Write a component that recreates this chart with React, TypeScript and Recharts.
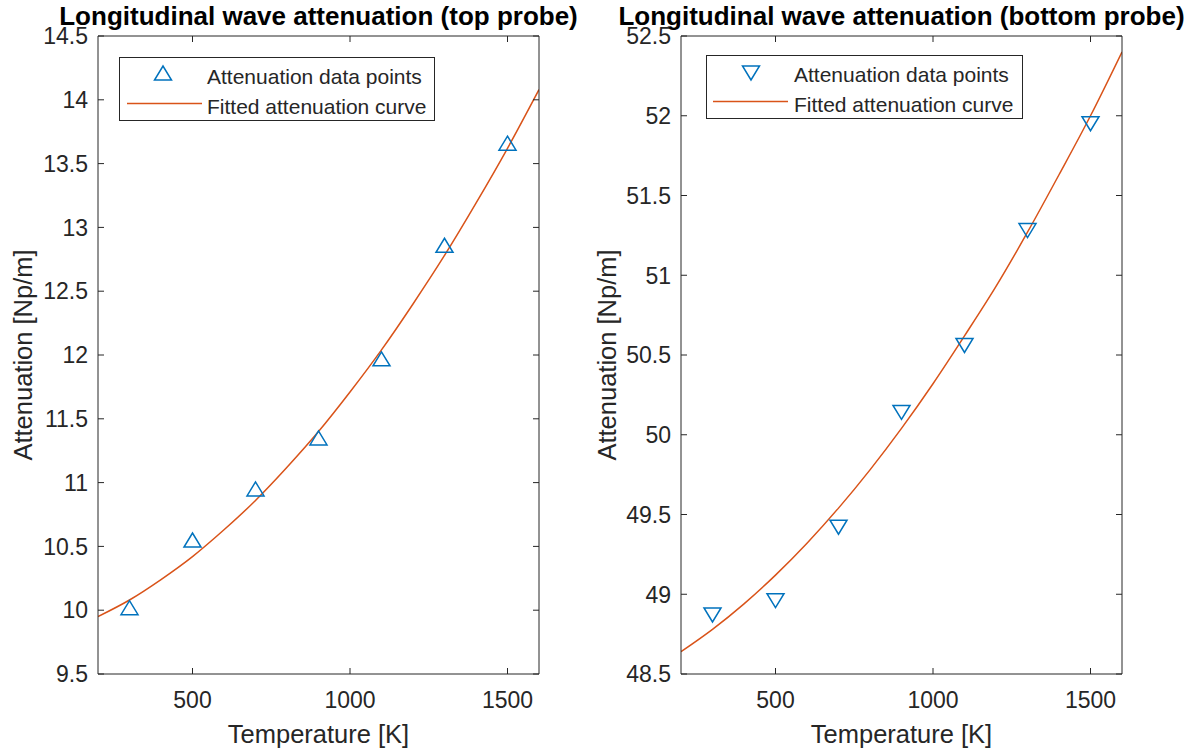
import React from "react";
import {
  ComposedChart,
  Line,
  Scatter,
  XAxis,
  YAxis,
  Legend,
} from "recharts";

// temperatures of measurements [K]
const tempPoints = [300, 500, 700, 900, 1100, 1300, 1500];
const topPoints = [10.02, 10.55, 10.95, 11.35, 11.97, 12.86, 13.66];
const bottomPoints = [48.87, 48.96, 49.42, 50.14, 50.56, 51.28, 51.95];

// fitted curves, read every 100 K
const tempCurve = [200, 300, 400, 500, 600, 700, 800, 900, 1000, 1100, 1200, 1300, 1400, 1500, 1600];
const topCurve = [9.95, 10.08, 10.24, 10.42, 10.63, 10.86, 11.12, 11.4, 11.71, 12.04, 12.4, 12.78, 13.19, 13.62, 14.08];
const bottomCurve = [48.64, 48.78, 48.94, 49.12, 49.32, 49.54, 49.78, 50.04, 50.32, 50.62, 50.93, 51.27, 51.63, 52.0, 52.4];

const xTicks = [500, 1000, 1500];
const topTicks = [9.5, 10, 10.5, 11, 11.5, 12, 12.5, 13, 13.5, 14, 14.5];
const bottomTicks = [48.5, 49, 49.5, 50, 50.5, 51, 51.5, 52, 52.5];

const AX = "#262626";
const BLUE = "#0072BD";
const ORANGE = "#D95319";
const FONT = "'Liberation Sans', Arial, sans-serif";
const TL = 6;

const BottomTick = (p: any) => (
  <g>
    <line x1={p.x} x2={p.x} y1={p.y} y2={p.y - TL} stroke={AX} />
    <text x={p.x} y={p.y + 34} textAnchor="middle" fontSize={23} fill={AX} fontFamily={FONT}>
      {p.payload.value}
    </text>
  </g>
);
const TopTick = (p: any) => (
  <line x1={p.x} x2={p.x} y1={p.y} y2={p.y + TL} stroke={AX} />
);
const LeftTick = (p: any) => (
  <g>
    <line x1={p.x} x2={p.x + TL} y1={p.y} y2={p.y} stroke={AX} />
    <text x={p.x - 10} y={p.y} dy="0.36em" textAnchor="end" fontSize={23} fill={AX} fontFamily={FONT}>
      {p.payload.value}
    </text>
  </g>
);
const RightTick = (p: any) => (
  <line x1={p.x} x2={p.x - TL} y1={p.y} y2={p.y} stroke={AX} />
);

const Tri = (up: boolean) => (p: any) => {
  const { cx, cy } = p;
  const w = 8.5, h = 7;
  const pts = up
    ? `${cx - w},${cy + h} ${cx + w},${cy + h} ${cx},${cy - h}`
    : `${cx - w},${cy - h} ${cx + w},${cy - h} ${cx},${cy + h}`;
  return <polygon points={pts} fill="none" stroke={BLUE} strokeWidth={1.5} />;
};

const makeLegend = (up: boolean, w: number, mx: number, my: number, lx: number) => () => (
  <svg width={w} height={64} style={{ display: "block" }}>
    <rect x={0.5} y={0.5} width={w - 1} height={63} fill="#fff" stroke={AX} />
    {Tri(up)({ cx: mx, cy: my })}
    <line x1={lx} x2={lx + 75} y1={46.5} y2={46.5} stroke={ORANGE} strokeWidth={1.5} />
    <text x={88} y={26.5} fontSize={21} fill={AX} fontFamily={FONT}>Attenuation data points</text>
    <text x={88} y={57} fontSize={21} fill={AX} fontFamily={FONT}>Fitted attenuation curve</text>
  </svg>
);

type PanelProps = {
  title: string;
  pts: number[];
  curve: number[];
  ticks: number[];
  up: boolean;
  width: number;
  leftW: number;
  rightW: number;
  yLabelOffset: number;
  legendLeft: number;
  legendTop: number;
  legendW: number;
};

function Panel(props: PanelProps) {
  const pointData = tempPoints.map((x, i) => ({ x, y: props.pts[i] }));
  const curveData = tempCurve.map((x, i) => ({ x, y: props.curve[i] }));
  const dom: [number, number] = [props.ticks[0], props.ticks[props.ticks.length - 1]];
  return (
    <ComposedChart width={props.width} height={753} margin={{ top: 0, right: 0, bottom: 0, left: 0 }}>
      <XAxis
        dataKey="x"
        type="number"
        domain={[200, 1600]}
        ticks={xTicks}
        interval={0}
        allowDataOverflow
        height={79}
        stroke={AX}
        tickLine={false}
        tickSize={0}
        tickMargin={0}
        tick={BottomTick}
        label={{ value: "Temperature [K]", position: "insideBottom", offset: 10, fontSize: 25.5, fill: AX, fontFamily: FONT }}
      />
      <XAxis
        xAxisId="t"
        orientation="top"
        dataKey="x"
        type="number"
        domain={[200, 1600]}
        ticks={xTicks}
        interval={0}
        allowDataOverflow
        height={36}
        stroke={AX}
        tickLine={false}
        tickSize={0}
        tickMargin={0}
        tick={TopTick}
        label={{ value: props.title, position: "insideTop", offset: 7, fontSize: 26, fontWeight: "bold", fill: "#000", fontFamily: FONT }}
      />
      <YAxis
        dataKey="y"
        type="number"
        domain={dom}
        ticks={props.ticks}
        interval={0}
        allowDataOverflow
        width={props.leftW}
        stroke={AX}
        tickLine={false}
        tickSize={0}
        tickMargin={0}
        tick={LeftTick}
        label={{
          value: "Attenuation [Np/m]",
          angle: -90,
          position: "insideLeft",
          offset: props.yLabelOffset,
          fontSize: 25.5,
          fill: AX,
          fontFamily: FONT,
          style: { textAnchor: "middle" },
        }}
      />
      <YAxis
        yAxisId="r"
        orientation="right"
        type="number"
        domain={dom}
        ticks={props.ticks}
        interval={0}
        allowDataOverflow
        width={props.rightW}
        stroke={AX}
        tickLine={false}
        tickSize={0}
        tickMargin={0}
        tick={RightTick}
      />
      <Legend
        layout="horizontal"
        verticalAlign="middle"
        align="center"
        wrapperStyle={{ position: "absolute", left: props.legendLeft, top: props.legendTop, width: props.legendW, height: 64 }}
        content={makeLegend(props.up, props.legendW, props.up ? 44 : 45, props.up ? 16 : 18, props.up ? 8 : 7)}
      />
      <Line
        data={curveData}
        dataKey="y"
        type="monotone"
        stroke={ORANGE}
        strokeWidth={1.5}
        dot={false}
        activeDot={false}
        isAnimationActive={false}
        legendType="line"
      />
      <Scatter data={pointData} dataKey="y" shape={Tri(props.up)} isAnimationActive={false} />
    </ComposedChart>
  );
}

export default function App() {
  return (
    <div style={{ position: "absolute", left: 0, top: 0, width: 1193, height: 753, background: "#fff", fontFamily: FONT }}>
      <div style={{ position: "absolute", left: 0, top: 0 }}>
        <Panel
          title="Longitudinal wave attenuation (top probe)"
          pts={topPoints}
          curve={topCurve}
          ticks={topTicks}
          up={true}
          width={590}
          leftW={98}
          rightW={51}
          yLabelOffset={23}
          legendLeft={119}
          legendTop={57}
          legendW={316}
        />
      </div>
      <div style={{ position: "absolute", left: 590, top: 0 }}>
        <Panel
          title="Longitudinal wave attenuation (bottom probe)"
          pts={bottomPoints}
          curve={bottomCurve}
          ticks={bottomTicks}
          up={false}
          width={603}
          leftW={91}
          rightW={71}
          yLabelOffset={17}
          legendLeft={116}
          legendTop={55}
          legendW={317}
        />
      </div>
    </div>
  );
}
